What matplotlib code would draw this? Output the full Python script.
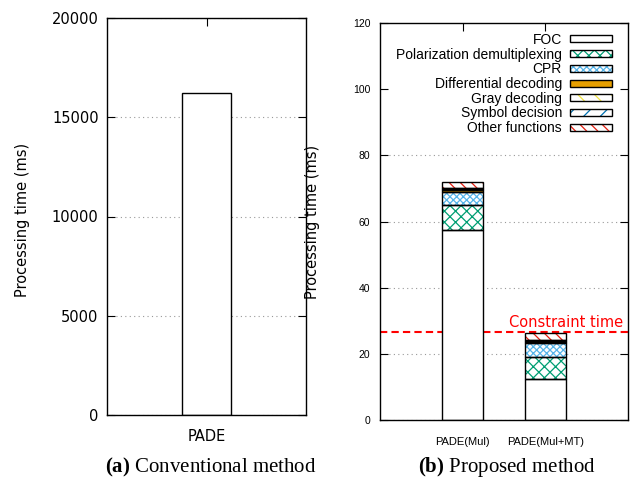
import matplotlib
matplotlib.use("Agg")
import matplotlib.pyplot as plt
from matplotlib.patches import Patch

# (a) conventional method
conv_labels = ["PADE"]
conv_time = [16200]

# (b) proposed method, stacked per function
prop_labels = ["PADE(Mul)", "PADE(Mul+MT)"]
functions = ["FOC", "Polarization demultiplexing", "CPR", "Differential decoding",
             "Gray decoding", "Symbol decision", "Other functions"]
foc = [57.4, 12.3]
pol_demux = [7.6, 6.8]
cpr = [3.9, 4.1]
diff_dec = [0.5, 0.4]
gray_dec = [0.3, 0.3]
sym_dec = [0.5, 0.4]
other = [1.8, 1.9]
constraint_time = 26.7

parts = [foc, pol_demux, cpr, diff_dec, gray_dec, sym_dec, other]
# (fill, hatch colour, hatch)
styles = [("white", None, None),
          ("white", "#009E73", "xxx"),
          ("white", "#56B4E9", "xxxxx"),
          ("#E69F00", None, None),
          ("white", "#F0E442", "\\\\"),
          ("white", "#0072B2", "//"),
          ("white", "#E51E10", "\\\\\\")]

plt.rcParams["hatch.linewidth"] = 0.9
plt.rcParams["mathtext.fontset"] = "custom"
plt.rcParams["mathtext.rm"] = "Liberation Serif"
plt.rcParams["mathtext.bf"] = "Liberation Serif:bold"
grid_kw = dict(color="#999999", linestyle=(0, (1, 3)), linewidth=0.8)

fig = plt.figure(figsize=(6.36, 4.83), dpi=100)
W, H = 636.0, 483.0

# ---- left panel
ax1 = fig.add_axes([107 / W, (H - 415) / H, 199 / W, 397 / H])
x1 = list(range(len(conv_labels)))
ax1.bar(x1, conv_time, width=0.5, color="white", edgecolor="black", linewidth=1, zorder=2)
ax1.set_xlim(-1, 1)
ax1.set_ylim(0, 20000)
ax1.set_yticks([0, 5000, 10000, 15000, 20000])
ax1.set_xticks(x1)
ax1.set_xticklabels(conv_labels, fontsize=10.5, family="DejaVu Sans")
ax1.tick_params(axis="y", direction="in", left=True, right=True, length=6, width=0.8,
                labelsize=10.5, pad=6)
ax1.tick_params(axis="x", direction="in", bottom=False, top=True, length=6, width=0.8, pad=10)
ax1.set_axisbelow(True)
ax1.yaxis.grid(True, **grid_kw)
for sp in ax1.spines.values():
    sp.set_linewidth(1)
fig.text(0.0346, 0.5445, "Processing time (ms)", rotation=90, ha="center", va="center",
         fontsize=10.5, family="DejaVu Sans")

# ---- right panel
ax2 = fig.add_axes([380 / W, (H - 420) / H, 248 / W, 397 / H])
x2 = list(range(len(prop_labels)))
bottom = [0.0] * len(x2)
handles = []
for vals, (fill, hc, hatch), name in zip(parts, styles, functions):
    if hatch:
        ax2.bar(x2, vals, width=0.5, bottom=bottom, color=fill, edgecolor=hc,
                hatch=hatch, linewidth=0, zorder=2)
    else:
        ax2.bar(x2, vals, width=0.5, bottom=bottom, color=fill, linewidth=0, zorder=2)
    ax2.bar(x2, vals, width=0.5, bottom=bottom, fill=False, edgecolor="black",
            linewidth=1, zorder=3)
    bottom = [b + v for b, v in zip(bottom, vals)]
    h_fill = Patch(facecolor=fill, edgecolor=hc if hc else fill, hatch=hatch, linewidth=0)
    h_edge = Patch(fill=False, edgecolor="black", linewidth=1)
    handles.append((h_fill, h_edge))

ax2.axhline(constraint_time, color="#FF0000", linestyle=(0, (3.5, 2)), linewidth=1.5, zorder=1)
ax2.text(0.98, constraint_time + 1.4, "Constraint time", color="#FF0000", ha="right",
         va="baseline", fontsize=10.5, family="DejaVu Sans",
         transform=ax2.get_yaxis_transform())

ax2.set_xlim(-1, 2)
ax2.set_ylim(0, 120)
ax2.set_yticks(range(0, 121, 20))
ax2.set_xticks(x2)
ax2.set_xticklabels(prop_labels, fontsize=8, family="Liberation Sans")
for lab in ax2.get_yticklabels():
    lab.set_family("Liberation Sans")
ax2.tick_params(axis="y", direction="in", left=True, right=True, length=6, width=0.8,
                labelsize=7.5, pad=7)
ax2.tick_params(axis="x", direction="in", bottom=False, top=True, length=6, width=0.8, pad=12)
ax2.set_axisbelow(True)
ax2.yaxis.grid(True, **grid_kw)
gl = ax2.yaxis.get_gridlines()
gl[5].set_visible(False)
gl[6].set_visible(False)
for sp in ax2.spines.values():
    sp.set_linewidth(1)
fig.text(0.492, 0.541, "Processing time (ms)", rotation=90, ha="center", va="center",
         fontsize=10.5, family="DejaVu Sans")

leg = ax2.legend(handles, functions, loc="upper right", bbox_to_anchor=(0.935, 0.975),
                 frameon=False, markerfirst=False, handlelength=3.0, handleheight=0.4,
                 handletextpad=0.6, labelspacing=0.05, borderpad=0, borderaxespad=0,
                 prop={"family": "Liberation Sans", "size": 10})

# captions
fig.text(211 / W, (H - 467) / H, r"$\mathbf{(a)}$ Conventional method", ha="center", va="center",
         fontsize=15, family="Liberation Serif")
fig.text(507 / W, (H - 467) / H, r"$\mathbf{(b)}$ Proposed method", ha="center", va="center",
         fontsize=15, family="Liberation Serif")

fig.savefig("out.png", dpi=100)
